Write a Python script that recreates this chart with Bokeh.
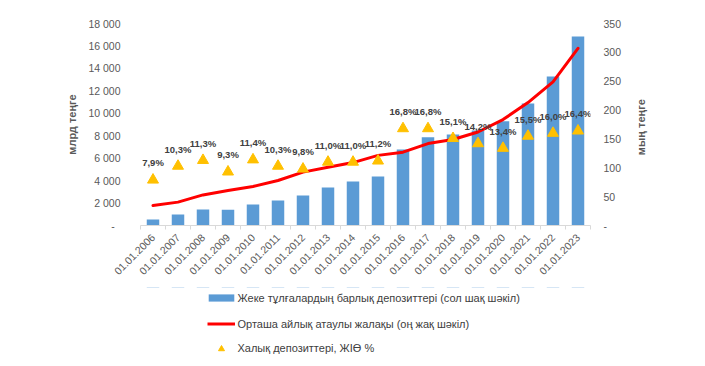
import math
from bokeh.plotting import figure
from bokeh.layouts import column
from bokeh.models import Range1d, LinearAxis, FixedTicker, Legend, LegendItem, ColumnDataSource
from bokeh.embed import file_html
from bokeh.resources import INLINE
from bokeh.core.properties import value

# ---- data ----
dates = ["01.01.2006", "01.01.2007", "01.01.2008", "01.01.2009", "01.01.2010", "01.01.2011",
         "01.01.2012", "01.01.2013", "01.01.2014", "01.01.2015", "01.01.2016", "01.01.2017",
         "01.01.2018", "01.01.2019", "01.01.2020", "01.01.2021", "01.01.2022", "01.01.2023"]
deposits = [540, 980, 1420, 1400, 1870, 2230, 2670, 3390, 3920, 4370, 6770, 7870,
            8110, 8470, 9290, 10870, 13280, 16840]          # млрд теңге (left)
wages = [34.7, 40.5, 53.0, 60.7, 67.7, 78.0, 92.5, 101.0, 109.0, 121.5, 127.0, 142.0,
         149.0, 162.0, 183.5, 213.0, 249.0, 307.0]          # мың теңге (right)
share_pct = [7.9, 10.3, 11.3, 9.3, 11.4, 10.3, 9.8, 11.0, 11.0, 11.2, 16.8, 16.8,
             15.1, 14.2, 13.4, 15.5, 16.0, 16.4]            # % of GDP
left_ticks = list(range(0, 18001, 2000))
right_ticks = list(range(0, 351, 50))

legend_names = ["Жеке тұлғалардың барлық депозиттері (сол шақ шәкіл)",
                "Орташа айлық атаулы жалақы (оң жақ шәкіл)",
                "Халық депозиттері, ЖІӨ %"]

FONT = "Liberation Sans"
TICK_COLOR = "#595959"
TEXT_COLOR = "#404040"
BAR_COLOR = "#5B9BD5"
LINE_COLOR = "#FF0000"
TRI_COLOR = "#FFC000"

n = len(dates)
xs = [i + 0.5 for i in range(n)]
labels = [f"{v:.1f}%".replace(".", ",") for v in share_pct]
src = ColumnDataSource(dict(x=xs, dep=deposits, wage=wages, pct=share_pct, lab=labels))

p = figure(width=705, height=287, output_backend="svg", toolbar_location=None,
           x_range=Range1d(0, n), y_range=Range1d(0, 18000),
           min_border_left=140, min_border_right=115, min_border_top=23, min_border_bottom=62,
           x_axis_location=None, y_axis_location=None)
p.extra_y_ranges = {"wage": Range1d(0, 350), "pct": Range1d(0, 35)}
p.outline_line_color = None
p.xgrid.visible = False
p.ygrid.visible = False

bars = p.vbar(x="x", top="dep", width=0.5, source=src, fill_color=BAR_COLOR, line_color=None)
line = p.line(x="x", y="wage", source=src, y_range_name="wage", line_color=LINE_COLOR,
              line_width=3, line_join="round", line_cap="round")
tri = p.scatter(x="x", y="pct", source=src, y_range_name="pct", marker="triangle", size=11,
                fill_color=TRI_COLOR, line_color=TRI_COLOR)
p.text(x="x", y="pct", text="lab", source=src, y_range_name="pct", y_offset=-17,
       text_align="center", text_baseline="middle", text_font=value(FONT),
       text_font_size="9.5px", text_font_style="bold", text_color=TEXT_COLOR)

# x axis
xa = LinearAxis(ticker=FixedTicker(ticks=xs, minor_ticks=list(range(n + 1))))
xa.major_label_overrides = {x: d for x, d in zip(xs, dates)}
xa.major_label_orientation = math.pi / 4
xa.major_tick_out = 0
xa.major_tick_in = 0
xa.minor_tick_out = 4
xa.minor_tick_in = 0
xa.minor_tick_line_color = "#D9D9D9"
xa.axis_line_color = "#D9D9D9"
xa.major_label_standoff = 6
xa.major_label_text_font = FONT
xa.major_label_text_font_size = "10.5px"
xa.major_label_text_color = TICK_COLOR
p.add_layout(xa, "below")

def fmt_left(v):
    return "-\u00a0\u00a0" if v == 0 else f"{v:,}".replace(",", " ")

ya = LinearAxis(ticker=FixedTicker(ticks=left_ticks, minor_ticks=[]))
ya.major_label_overrides = {v: fmt_left(v) for v in left_ticks}
ya.axis_line_color = None
ya.major_tick_line_color = None
ya.major_tick_out = 0
ya.major_label_standoff = 20
ya.major_label_text_font = FONT
ya.major_label_text_font_size = "10.5px"
ya.major_label_text_color = TICK_COLOR
ya.axis_label = "млрд теңге"
ya.axis_label_text_font = FONT
ya.axis_label_text_font_size = "11px"
ya.axis_label_text_font_style = "bold"
ya.axis_label_text_color = TICK_COLOR
ya.axis_label_standoff = 7
p.add_layout(ya, "left")

yr = LinearAxis(y_range_name="wage", ticker=FixedTicker(ticks=right_ticks, minor_ticks=[]))
yr.major_label_overrides = {v: ("-" if v == 0 else str(v)) for v in right_ticks}
yr.axis_line_color = None
yr.major_tick_line_color = None
yr.major_tick_out = 0
yr.major_label_standoff = 13
yr.major_label_text_font = FONT
yr.major_label_text_font_size = "10.5px"
yr.major_label_text_color = TICK_COLOR
yr.axis_label_text_font = FONT
yr.axis_label_text_font_size = "11px"
yr.axis_label_text_font_style = "bold"
yr.axis_label_text_color = TICK_COLOR
yr.axis_label_standoff = 17
yr.axis_label_orientation = math.pi / 2
if "axis_label_align" in yr.properties():
    yr.axis_label_align = "start"
    yr.axis_label = "\u00a0" * 23 + "мың теңге"
else:
    yr.axis_label = "мың теңге"
p.add_layout(yr, "right")

# ---- legend strip below the chart (its glyphs sit outside the visible range) ----
lg = figure(width=705, height=79, output_backend="svg", toolbar_location=None,
            x_range=Range1d(0, n), y_range=Range1d(-40000, -39000),
            min_border_left=0, min_border_right=0, min_border_top=0, min_border_bottom=0,
            x_axis_location=None, y_axis_location=None)
lg.outline_line_color = None
lg.xgrid.visible = False
lg.ygrid.visible = False
lbars = lg.vbar(x="x", top="dep", width=0.5, source=src, fill_color=BAR_COLOR, line_color=None)
lline = lg.line(x="x", y="wage", source=src, line_color=LINE_COLOR, line_width=3)
ltri = lg.scatter(x="x", y="pct", source=src, marker="triangle", size=11,
                  fill_color=TRI_COLOR, line_color=TRI_COLOR)

def make_legend(label, rend, loc, gw, gh, standoff):
    leg = Legend(items=[LegendItem(label=label, renderers=[rend])], location=loc,
                 glyph_width=gw, glyph_height=gh, label_height=gh, label_standoff=standoff,
                 padding=0, margin=0, spacing=0, border_line_color=None,
                 background_fill_alpha=0, label_text_font=FONT,
                 label_text_font_size="11px", label_text_color=TEXT_COLOR)
    lg.add_layout(leg, "center")

make_legend(legend_names[0], lbars, (64.5, 62.5), 32, 9, 1)
make_legend(legend_names[1], lline, (66.5, 36.5), 28, 9, 3)
make_legend(legend_names[2], ltri, (64.5, 10.5), 32, 15, 1)

open("out.html", "w").write(file_html(column(p, lg, spacing=0), INLINE))
